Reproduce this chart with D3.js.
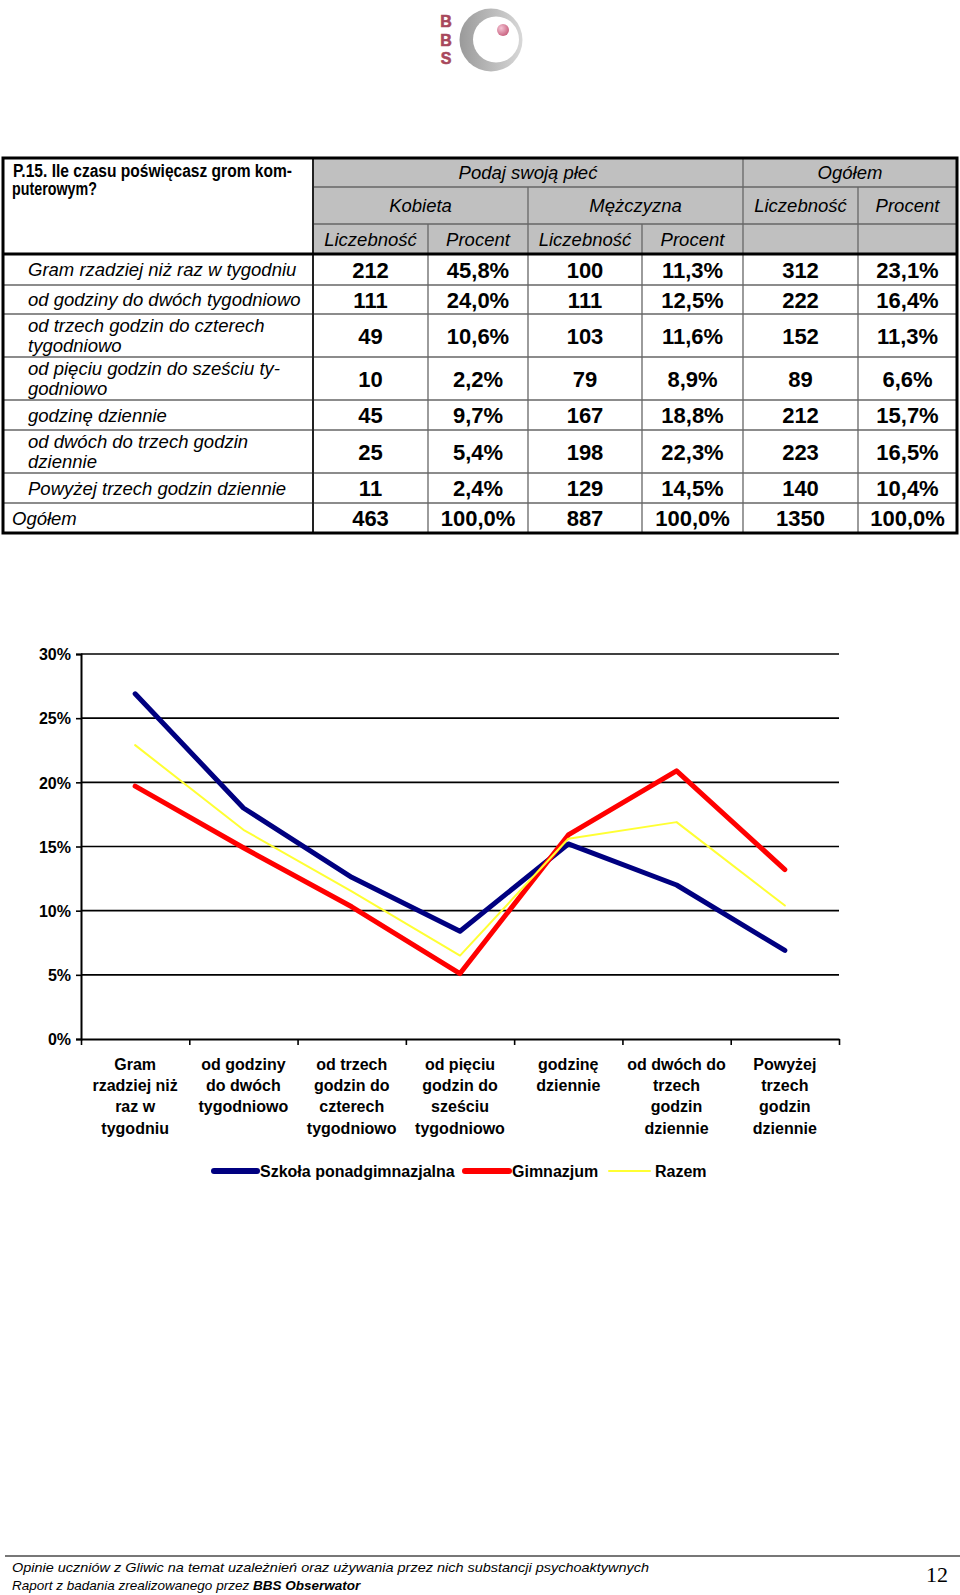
<!DOCTYPE html>
<html><head><meta charset="utf-8">
<script src="https://cdn.jsdelivr.net/npm/d3@7/dist/d3.min.js"></script>
<style>
body{margin:0;background:#fff;}
svg{display:block;}
</style></head>
<body>
<script>
// ---------- DATA ----------
const rowLabels = [
  ["Gram rzadziej niż raz w tygodniu"],
  ["od godziny do dwóch tygodniowo"],
  ["od trzech godzin do czterech", "tygodniowo"],
  ["od pięciu godzin do sześciu ty-", "godniowo"],
  ["godzinę dziennie"],
  ["od dwóch do trzech godzin", "dziennie"],
  ["Powyżej trzech godzin dziennie"],
  ["Ogółem"]
];
const kobietaN = [212, 111, 49, 10, 45, 25, 11, 463];
const kobietaP = [45.8, 24.0, 10.6, 2.2, 9.7, 5.4, 2.4, 100.0];
const mezczyznaN = [100, 111, 103, 79, 167, 198, 129, 887];
const mezczyznaP = [11.3, 12.5, 11.6, 8.9, 18.8, 22.3, 14.5, 100.0];
const ogolemN = [312, 222, 152, 89, 212, 223, 140, 1350];
const ogolemP = [23.1, 16.4, 11.3, 6.6, 15.7, 16.5, 10.4, 100.0];

const categories = [
  ["Gram", "rzadziej niż", "raz w", "tygodniu"],
  ["od godziny", "do dwóch", "tygodniowo"],
  ["od trzech", "godzin do", "czterech", "tygodniowo"],
  ["od pięciu", "godzin do", "sześciu", "tygodniowo"],
  ["godzinę", "dziennie"],
  ["od dwóch do", "trzech", "godzin", "dziennie"],
  ["Powyżej", "trzech", "godzin", "dziennie"]
];
const szkola = [26.9, 18.0, 12.6, 8.4, 15.2, 12.0, 6.9];
const gimnazjum = [19.7, 14.9, 10.3, 5.1, 15.9, 20.9, 13.2];
const razem = [22.9, 16.3, 11.5, 6.5, 15.6, 16.9, 10.4];
const yTicks = [0, 5, 10, 15, 20, 25, 30];

const seriesNames = ["Szkoła ponadgimnazjalna", "Gimnazjum", "Razem"];
const seriesColors = ["#000080", "#ff0000", "#ffff33"];
const seriesWidths = [5, 5, 2];

// ---------- SVG ----------
const W = 960, H = 1595;
const svg = d3.select("body").append("svg").attr("width", W).attr("height", H);
const SANS = "'Liberation Sans', Arial, Helvetica, sans-serif";
const NARROW = "'Liberation Sans Narrow', 'Arial Narrow', 'Liberation Sans', Arial, sans-serif";

// ---------- LOGO ----------
const logo = svg.append("g");
const defs = svg.append("defs");
const rg = defs.append("linearGradient").attr("id", "ringGrad").attr("x1", "0").attr("x2", "1").attr("y1", "0").attr("y2", "0");
rg.append("stop").attr("offset", "0").attr("stop-color", "#9a9a9a");
rg.append("stop").attr("offset", "1").attr("stop-color", "#d8d8d8");
const bg = defs.append("radialGradient").attr("id", "ballGrad").attr("cx", "0.35").attr("cy", "0.35").attr("r", "0.7");
bg.append("stop").attr("offset", "0").attr("stop-color", "#f4c4d4");
bg.append("stop").attr("offset", "1").attr("stop-color", "#c8607e");
logo.append("circle").attr("cx", 491).attr("cy", 40).attr("r", 31.5).attr("fill", "url(#ringGrad)");
logo.append("circle").attr("cx", 496).attr("cy", 39.5).attr("r", 23).attr("fill", "#fff");
logo.append("circle").attr("cx", 503).attr("cy", 30).attr("r", 6).attr("fill", "url(#ballGrad)");
["B", "B", "S"].forEach((ch, i) => {
  logo.append("text").attr("x", 446).attr("y", 27 + i * 18.5).attr("text-anchor", "middle")
    .attr("font-family", SANS).attr("font-weight", "bold").attr("font-size", 16)
    .attr("fill", "#a8485c").attr("stroke", "#a8485c").attr("stroke-width", 0.6).text(ch);
});

// ---------- TABLE ----------
const tb = svg.append("g");
const colX = [3, 313, 428, 528, 642, 743, 858, 957];
const hdrY = [158, 187, 224, 254];
const rowY = [254, 285, 314, 357, 400, 430, 473, 503, 533];
const GRAY = "#c0c0c0";
tb.append("rect").attr("x", colX[1]).attr("y", hdrY[0]).attr("width", colX[7] - colX[1]).attr("height", hdrY[3] - hdrY[0]).attr("fill", GRAY);

const thin = (x1, y1, x2, y2, c = "#666", w = 1.3) => tb.append("line").attr("x1", x1).attr("y1", y1).attr("x2", x2).attr("y2", y2).attr("stroke", c).attr("stroke-width", w);
thin(colX[1], hdrY[1], colX[7], hdrY[1]);
thin(colX[1], hdrY[2], colX[7], hdrY[2]);
thin(colX[5], hdrY[0], colX[5], hdrY[3]);
thin(colX[3], hdrY[1], colX[3], hdrY[3]);
thin(colX[6], hdrY[1], colX[6], hdrY[3]);
thin(colX[2], hdrY[2], colX[2], hdrY[3]);
thin(colX[4], hdrY[2], colX[4], hdrY[3]);
rowY.slice(1, -1).forEach(y => thin(colX[0], y, colX[7], y));
[2, 3, 4, 5, 6].forEach(i => thin(colX[i], rowY[0], colX[i], rowY[8]));
thin(colX[1], hdrY[0], colX[1], rowY[8], "#222", 2);
thin(colX[0], hdrY[3], colX[7], hdrY[3], "#000", 3);
tb.append("rect").attr("x", colX[0]).attr("y", hdrY[0]).attr("width", colX[7] - colX[0]).attr("height", rowY[8] - hdrY[0])
  .attr("fill", "none").attr("stroke", "#000").attr("stroke-width", 3);

tb.append("text").attr("x", 13).attr("y", 177).attr("font-family", NARROW).attr("font-weight", "bold").attr("font-size", 18)
  .attr("textLength", 279).attr("lengthAdjust", "spacingAndGlyphs").text("P.15.  Ile czasu poświęcasz grom kom-");
tb.append("text").attr("x", 12).attr("y", 195).attr("font-family", NARROW).attr("font-weight", "bold").attr("font-size", 18)
  .attr("textLength", 85).attr("lengthAdjust", "spacingAndGlyphs").text("puterowym?");

const hdrText = (t, x1, x2, y1, y2) => tb.append("text").attr("x", (x1 + x2) / 2).attr("y", (y1 + y2) / 2 + 6.5)
  .attr("text-anchor", "middle").attr("font-family", SANS).attr("font-style", "italic").attr("font-size", 18.5).text(t);
hdrText("Podaj swoją płeć", colX[1], colX[5], hdrY[0], hdrY[1]);
hdrText("Ogółem", colX[5], colX[7], hdrY[0], hdrY[1]);
hdrText("Kobieta", colX[1], colX[3], hdrY[1], hdrY[2]);
hdrText("Mężczyzna", colX[3], colX[5], hdrY[1], hdrY[2]);
hdrText("Liczebność", colX[5], colX[6], hdrY[1], hdrY[2]);
hdrText("Procent", colX[6], colX[7], hdrY[1], hdrY[2]);
hdrText("Liczebność", colX[1], colX[2], hdrY[2], hdrY[3]);
hdrText("Procent", colX[2], colX[3], hdrY[2], hdrY[3]);
hdrText("Liczebność", colX[3], colX[4], hdrY[2], hdrY[3]);
hdrText("Procent", colX[4], colX[5], hdrY[2], hdrY[3]);

const fmtP = v => v.toFixed(1).replace(".", ",") + "%";
const cols = [kobietaN.map(String), kobietaP.map(fmtP), mezczyznaN.map(String), mezczyznaP.map(fmtP), ogolemN.map(String), ogolemP.map(fmtP)];
rowLabels.forEach((lines, r) => {
  const yc = (rowY[r] + rowY[r + 1]) / 2;
  const x = r === rowLabels.length - 1 ? 12 : 28;
  lines.forEach((ln, k) => {
    const yy = yc + 6.5 + (lines.length === 2 ? (k === 0 ? -10 : 10) : 0);
    tb.append("text").attr("x", x).attr("y", yy).attr("font-family", SANS).attr("font-style", "italic")
      .attr("font-size", 18.5).text(ln);
  });
  cols.forEach((col, c) => {
    tb.append("text").attr("x", (colX[c + 1] + colX[c + 2]) / 2).attr("y", yc + 8)
      .attr("text-anchor", "middle").attr("font-family", SANS).attr("font-weight", "bold").attr("font-size", 22).text(col[r]);
  });
});

// ---------- CHART ----------
const x0 = 81, x1 = 839, yTop = 654, yBot = 1039;
const x = d3.scaleBand().domain(d3.range(categories.length)).range([x0, x1]).padding(0);
const y = d3.scaleLinear().domain([0, 30]).range([yBot, yTop]);
const ch = svg.append("g");

const yAxis = ch.append("g").attr("transform", `translate(${x0},0)`)
  .call(d3.axisLeft(y).tickValues(yTicks).tickSize(5).tickFormat(d => d + "%"));
yAxis.select(".domain").attr("stroke", "#000").attr("stroke-width", 2);
yAxis.selectAll(".tick line").attr("stroke", "#000").attr("stroke-width", 1.6);
yAxis.selectAll(".tick text").attr("x", -10).attr("dy", "0.36em").attr("font-family", SANS).attr("font-weight", "bold").attr("font-size", 16).attr("fill", "#000");
ch.append("g").selectAll("line").data(yTicks.filter(d => d > 0)).join("line")
  .attr("x1", x0).attr("x2", x1).attr("y1", d => y(d)).attr("y2", d => y(d)).attr("stroke", "#000").attr("stroke-width", 1.6);

const xAxis = ch.append("g").attr("transform", `translate(0,${yBot})`)
  .call(d3.axisBottom(d3.scaleLinear().domain([0, categories.length]).range([x0, x1])).tickValues(d3.range(categories.length + 1)).tickSize(6).tickSizeOuter(0).tickFormat(""));
xAxis.select(".domain").attr("stroke", "#000").attr("stroke-width", 2);
xAxis.selectAll(".tick line").attr("stroke", "#000").attr("stroke-width", 1.6);

categories.forEach((lines, i) => {
  const t = ch.append("text").attr("text-anchor", "middle").attr("font-family", SANS).attr("font-weight", "bold").attr("font-size", 16);
  lines.forEach((ln, k) => t.append("tspan").attr("x", x(i) + x.bandwidth() / 2).attr("y", 1070 + k * 21.2).text(ln));
});

const line = d3.line().x((d, i) => x(i) + x.bandwidth() / 2).y(d => y(d));
[szkola, gimnazjum, razem].forEach((s, k) => {
  ch.append("path").datum(s).attr("d", line).attr("fill", "none").attr("stroke", seriesColors[k])
    .attr("stroke-width", seriesWidths[k]).attr("stroke-linejoin", "round").attr("stroke-linecap", "round");
});

// legend
const legItems = [{ lx1: 214, lx2: 257, tx: 260 }, { lx1: 465, lx2: 509, tx: 512 }, { lx1: 609, lx2: 650, tx: 655 }];
legItems.forEach((it, k) => {
  ch.append("line").attr("x1", it.lx1).attr("x2", it.lx2).attr("y1", 1171).attr("y2", 1171).attr("stroke", seriesColors[k])
    .attr("stroke-width", seriesWidths[k] + (k < 2 ? 1 : 0)).attr("stroke-linecap", "round");
  ch.append("text").attr("x", it.tx).attr("y", 1177).attr("font-family", SANS).attr("font-weight", "bold").attr("font-size", 16).text(seriesNames[k]);
});

// ---------- FOOTER ----------
svg.append("line").attr("x1", 5).attr("x2", 960).attr("y1", 1556).attr("y2", 1556).attr("stroke", "#777").attr("stroke-width", 2);
svg.append("text").attr("x", 12).attr("y", 1572).attr("font-family", SANS).attr("font-style", "italic").attr("font-size", 13.5)
  .attr("textLength", 637).attr("lengthAdjust", "spacingAndGlyphs")
  .text("Opinie uczniów z Gliwic na temat uzależnień oraz używania przez nich substancji psychoaktywnych");
const f2 = svg.append("text").attr("x", 12).attr("y", 1590).attr("font-family", SANS).attr("font-style", "italic").attr("font-size", 13.5);
f2.append("tspan").text("Raport z badania zrealizowanego przez ");
f2.append("tspan").attr("font-weight", "bold").text("BBS Obserwator");
svg.append("text").attr("x", 948).attr("y", 1582).attr("text-anchor", "end").attr("font-family", "'Liberation Serif', 'Times New Roman', serif").attr("font-size", 22).text("12");
</script>
</body></html>
